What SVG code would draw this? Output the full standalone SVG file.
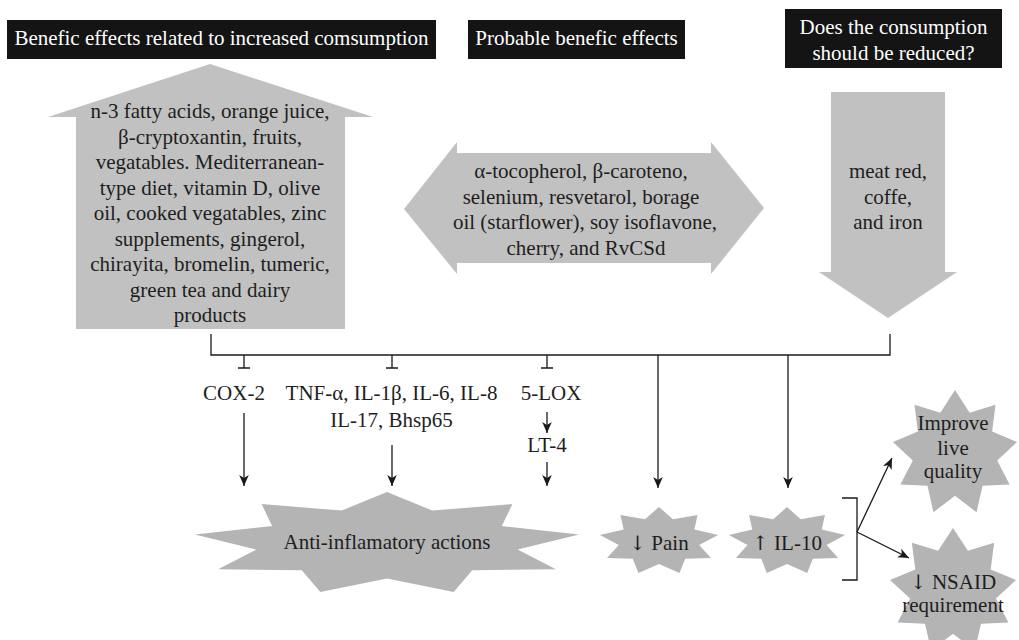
<svg xmlns="http://www.w3.org/2000/svg" width="1019" height="640" viewBox="0 0 1019 640">
<style>
text{font-family:"Liberation Serif","Times New Roman",serif;font-size:21px;fill:#1e1e1e;text-anchor:middle}
.sym{font-family:"DejaVu Serif","Liberation Serif",serif;font-size:20px}
.hdr{fill:#141414}
.hdrt{fill:#ffffff}
.bigarrow{fill:#c1c1c1}
.star{fill:#b4b4b4}
.ln{stroke:#1a1a1a;stroke-width:1.3;fill:none}
.arr{stroke:#1a1a1a;stroke-width:1.3;fill:none;marker-end:url(#ah)}
</style>
<defs>
<marker id="ah" markerUnits="userSpaceOnUse" markerWidth="12" markerHeight="12" viewBox="0 0 12 12" refX="11" refY="6" orient="auto">
<path d="M0,1.2 L11,6 L0,10.8 L3,6 Z" fill="#1a1a1a"/>
</marker>
<polygon id="star9" points="0,-100 23.3,-63.9 64.3,-76.6 58.9,-34 98.5,-17.4 67,11.8 86.6,50 43.7,52.1 34.2,94 0,68 -34.2,94 -43.7,52.1 -86.6,50 -67,11.8 -98.5,-17.4 -58.9,-34 -64.3,-76.6 -23.3,-63.9"/>
</defs>
<rect width="1019" height="640" fill="#ffffff"/>

<g id="header-increase">
<rect class="hdr" x="7" y="20" width="429" height="39"/>
<text class="hdrt" x="221.5" y="45">Benefic effects related to increased comsumption</text>
</g>
<g id="header-probable">
<rect class="hdr" x="468" y="20" width="217" height="39"/>
<text class="hdrt" x="576.5" y="45">Probable benefic effects</text>
</g>
<g id="header-reduce">
<rect class="hdr" x="785" y="9" width="217" height="59"/>
<text class="hdrt" x="893.5" y="34">Does the consumption</text>
<text class="hdrt" x="893.5" y="60">should be reduced?</text>
</g>

<g id="up-arrow">
<polygon class="bigarrow" points="210,64 373,117 345,117 345,329 76,329 76,117 48,117"/>
<text x="210" y="118">n-3 fatty acids, orange juice,</text>
<text x="210" y="144">β-cryptoxantin, fruits,</text>
<text x="210" y="169">vegatables. Mediterranean-</text>
<text x="210" y="195">type diet, vitamin D, olive</text>
<text x="210" y="220">oil, cooked vegatables, zinc</text>
<text x="210" y="246">supplements, gingerol,</text>
<text x="210" y="271">chirayita, bromelin, tumeric,</text>
<text x="210" y="297">green tea and dairy</text>
<text x="210" y="322">products</text>
</g>

<g id="double-arrow">
<polygon class="bigarrow" points="404,209 457,142 457,153 711,153 711,142 764,208 711,274 711,263 457,263 457,274"/>
<text x="581" y="178">α-tocopherol, β-caroteno,</text>
<text x="581" y="203.5">selenium, resvetarol, borage</text>
<text x="585" y="229">oil (starflower), soy isoflavone,</text>
<text x="586" y="254.5">cherry, and RvCSd</text>
</g>

<g id="down-arrow">
<polygon class="bigarrow" points="831,92 945,92 945,272 957,272 888,318 819,272 831,272"/>
<text x="888" y="178">meat red,</text>
<text x="888" y="204">coffe,</text>
<text x="888" y="229">and iron</text>
</g>

<g id="label-cox2"><text x="234" y="400">COX-2</text></g>
<g id="label-cytokines">
<text x="391.5" y="400">TNF-α, IL-1β, IL-6, IL-8</text>
<text x="391.5" y="427">IL-17, Bhsp65</text>
</g>
<g id="label-5lox"><text x="551" y="400">5-LOX</text></g>
<g id="label-lt4"><text x="547" y="452">LT-4</text></g>

<g id="star-anti">
<use href="#star9" class="star" transform="translate(387,543.5) scale(1.95,0.515)"/>
<text x="387" y="549">Anti-inflamatory actions</text>
</g>
<g id="star-pain">
<use href="#star9" class="star" transform="translate(659,541) scale(0.6,0.34)"/>
<text x="659" y="550"><tspan class="sym">↓</tspan> Pain</text>
</g>
<g id="star-il10">
<use href="#star9" class="star" transform="translate(787,541) scale(0.59,0.34)"/>
<text x="787" y="550"><tspan class="sym">↑</tspan> IL-10</text>
</g>
<g id="star-improve">
<use href="#star9" class="star" transform="translate(955,453) scale(0.63,0.63)"/>
<text x="953" y="430">Improve</text>
<text x="953" y="455">live</text>
<text x="953" y="478">quality</text>
</g>
<g id="star-nsaid">
<use href="#star9" class="star" transform="translate(953,591) scale(0.64,0.63)"/>
<text x="953" y="589"><tspan class="sym">↓</tspan> NSAID</text>
<text x="953" y="612">requirement</text>
</g>

<g id="connectors">
<path class="ln" d="M211,334 V355 H890 V334"/>
<path class="ln" d="M244,355 V368 M238,368 H250"/>
<path class="ln" d="M392,355 V368 M386,368 H398"/>
<path class="ln" d="M547,355 V368 M541,368 H553"/>
<line class="arr" x1="244" y1="413" x2="244" y2="486"/>
<line class="arr" x1="392" y1="445" x2="392" y2="486"/>
<line class="arr" x1="547" y1="412" x2="547" y2="433"/>
<line class="arr" x1="547" y1="462" x2="547" y2="486"/>
<line class="arr" x1="658" y1="355" x2="658" y2="488"/>
<line class="arr" x1="788" y1="355" x2="788" y2="488"/>
<path class="ln" d="M842,498 H857 V580 H842"/>
<line class="arr" x1="857" y1="532" x2="892" y2="458"/>
<line class="arr" x1="857" y1="532" x2="909" y2="558"/>
</g>
</svg>
